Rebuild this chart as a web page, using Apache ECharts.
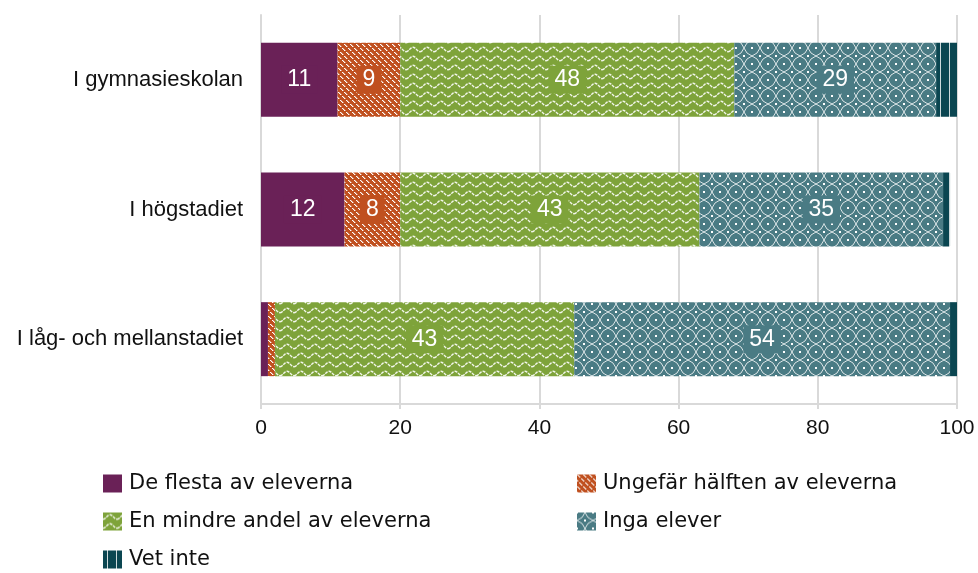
<!DOCTYPE html>
<html>
<head>
<meta charset="utf-8">
<script src="https://cdn.jsdelivr.net/npm/echarts@6/dist/echarts.min.js"></script>
<style>
  html, body { margin: 0; padding: 0; background: #fff; }
  #chart { width: 978px; height: 573px; }
</style>
</head>
<body>
<div id="chart"></div>
<script>
// kategorier (uppifrån och ned)
const categories = ["I gymnasieskolan", "I högstadiet", "I låg- och mellanstadiet"];
const seriesNames = [
  "De flesta av eleverna",
  "Ungefär hälften av eleverna",
  "En mindre andel av eleverna",
  "Inga elever",
  "Vet inte",
];
// värden per serie, i kategoriordning
const deFlesta = [11, 12, 1];
const ungefarHalften = [9, 8, 1];
const enMindreAndel = [48, 43, 43];
const ingaElever = [29, 35, 54];
const vetInte = [3, 1, 1];
const xTicks = [0, 20, 40, 60, 80, 100];

const seriesValues = [deFlesta, ungefarHalften, enMindreAndel, ingaElever, vetInte];
const baseColors = ["#6a2157", "#c0501f", "#7ea33a", "#4a7b84", "#0b4651"];
const sansA = "Liberation Sans, Arial, sans-serif";
const sansB = "DejaVu Sans, sans-serif";

// mönster ritade på canvas
function makePattern(kind) {
  const c = document.createElement("canvas");
  const ctx = c.getContext("2d");
  if (kind === "solid") {
    c.width = c.height = 4;
    ctx.fillStyle = baseColors[0];
    ctx.fillRect(0, 0, 4, 4);
  } else if (kind === "diag") {
    c.width = c.height = 12;
    ctx.fillStyle = baseColors[1];
    ctx.fillRect(0, 0, 12, 12);
    for (const k of [0, 6]) {
      for (let i = 0; i < 12; i++) {
        if (i % 4 === 3) continue;
        ctx.fillStyle = "#fff";
        ctx.fillRect((i + k) % 12, i, 1, 1);
        ctx.fillStyle = "rgba(255,255,255,0.4)";
        ctx.fillRect((i + k + 1) % 12, i, 1, 1);
      }
    }
  } else if (kind === "wave") {
    c.width = 14; c.height = 9;
    ctx.fillStyle = baseColors[2];
    ctx.fillRect(0, 0, 14, 9);
    ctx.strokeStyle = "rgba(255,255,255,0.9)";
    ctx.lineWidth = 1.4;
    ctx.setLineDash([3, 1]);
    ctx.beginPath();
    for (let x = 0; x <= 14; x++) {
      const y = 4.5 + 2.2 * Math.cos((x / 14) * Math.PI * 2);
      if (x === 0) ctx.moveTo(x, y); else ctx.lineTo(x, y);
    }
    ctx.stroke();
  } else if (kind === "lattice") {
    c.width = c.height = 16;
    ctx.fillStyle = baseColors[3];
    ctx.fillRect(0, 0, 16, 16);
    ctx.strokeStyle = "rgba(255,255,255,0.8)";
    ctx.lineWidth = 1;
    ctx.beginPath();
    ctx.moveTo(0, 8); ctx.quadraticCurveTo(6, 6, 8, 0);
    ctx.moveTo(8, 0); ctx.quadraticCurveTo(10, 6, 16, 8);
    ctx.moveTo(16, 8); ctx.quadraticCurveTo(10, 10, 8, 16);
    ctx.moveTo(8, 16); ctx.quadraticCurveTo(6, 10, 0, 8);
    ctx.stroke();
    ctx.fillStyle = "#fff";
    ctx.fillRect(7, 7, 2, 2);
    ctx.fillRect(0, 0, 1, 1); ctx.fillRect(15, 15, 1, 1);
    ctx.fillRect(15, 0, 1, 1); ctx.fillRect(0, 15, 1, 1);
  } else if (kind === "vlines") {
    c.width = 9; c.height = 4;
    ctx.fillStyle = baseColors[4];
    ctx.fillRect(0, 0, 9, 4);
    ctx.fillStyle = "rgba(255,255,255,0.8)";
    ctx.fillRect(4, 0, 1, 4);
  }
  return { image: c, repeat: "repeat" };
}

const patterns = ["solid", "diag", "wave", "lattice", "vlines"].map(makePattern);

const chart = echarts.init(document.getElementById("chart"));

const series = seriesNames.map((name, si) => ({
  name,
  type: "bar",
  stack: "total",
  barWidth: 74,
  itemStyle: { color: patterns[si] },
  data: seriesValues[si].map((v) => ({
    value: v,
    label: {
      show: v >= 5,
      position: "inside",
      formatter: "{c}",
      color: "#fff",
      fontSize: 23,
      fontFamily: sansA,
      backgroundColor: baseColors[si],
      padding: [3, 6, 2, 6],
    },
  })),
}));

// legend i två kolumner
const legendPos = [
  { left: 98, top: 468 },
  { left: 572, top: 468 },
  { left: 98, top: 506 },
  { left: 572, top: 506 },
  { left: 98, top: 544 },
];
const legends = seriesNames.map((name, i) => ({
  data: [name],
  left: legendPos[i].left,
  top: legendPos[i].top,
  orient: "horizontal",
  icon: "rect",
  itemWidth: 19,
  itemHeight: 18,
  selectedMode: false,
  textStyle: {
    fontSize: 21,
    color: "#111",
    fontFamily: sansB,
    padding: [7, 0, 0, 2],
  },
}));

const option = {
  animation: false,
  backgroundColor: "#fff",
  grid: { left: 261, right: 21, top: 15, bottom: 169, containLabel: false },
  xAxis: {
    type: "value",
    min: xTicks[0],
    max: xTicks[xTicks.length - 1],
    interval: 20,
    axisLine: { show: true, lineStyle: { color: "#d9d9d9", width: 2 } },
    axisTick: { show: true, length: 5, lineStyle: { color: "#d9d9d9", width: 2 } },
    splitLine: { show: true, lineStyle: { color: "#d9d9d9", width: 2 } },
    axisLabel: {
      color: "#111",
      fontSize: 21,
      margin: 14,
      fontFamily: sansA,
    },
  },
  yAxis: {
    type: "category",
    data: categories,
    inverse: true,
    axisLine: { show: true, lineStyle: { color: "#d9d9d9", width: 2 } },
    axisTick: { show: false },
    axisLabel: {
      color: "#111",
      fontSize: 22,
      margin: 18,
      fontFamily: sansA,
    },
  },
  legend: legends,
  series,
};

chart.setOption(option);
</script>
</body>
</html>
